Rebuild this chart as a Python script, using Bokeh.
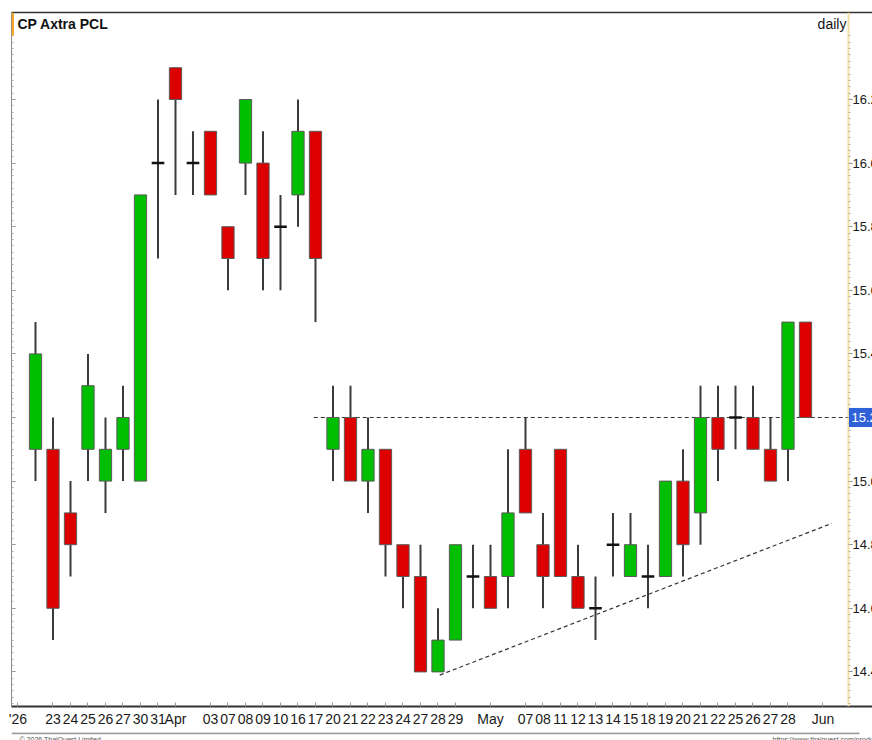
from bokeh.plotting import figure
from bokeh.layouts import column
from bokeh.models import (LinearAxis, FixedTicker, Range1d, Label, ColumnDataSource,
                          NumeralTickFormatter, BoxAnnotation)
from bokeh.core.properties import value
from bokeh.embed import file_html
from bokeh.resources import INLINE

# ---------------- data ----------------
dates = ["Mar 20", "Mar 23", "Mar 24", "Mar 25", "Mar 26", "Mar 27", "Mar 30", "Mar 31",
         "Apr 01", "Apr 02", "Apr 03", "Apr 07", "Apr 08", "Apr 09", "Apr 10", "Apr 16",
         "Apr 17", "Apr 20", "Apr 21", "Apr 22", "Apr 23", "Apr 24", "Apr 27", "Apr 28",
         "Apr 29", "Apr 30", "May 05", "May 06", "May 07", "May 08", "May 11", "May 12",
         "May 13", "May 14", "May 15", "May 18", "May 19", "May 20", "May 21", "May 22",
         "May 25", "May 26", "May 27", "May 28", "May 29"]
opens = [15.1, 15.1, 14.9, 15.1, 15.0, 15.1, 15.0, 16.0, 16.3, 16.0, 16.1, 15.8, 16.0, 16.0,
         15.8, 15.9, 16.1, 15.1, 15.2, 15.0, 15.1, 14.8, 14.7, 14.4, 14.5, 14.7, 14.7, 14.7,
         15.1, 14.8, 15.1, 14.7, 14.6, 14.8, 14.7, 14.7, 14.7, 15.0, 14.9, 15.2, 15.2, 15.2,
         15.1, 15.1, 15.5]
highs = [15.5, 15.2, 15.0, 15.4, 15.2, 15.3, 15.9, 16.2, 16.3, 16.1, 16.1, 15.8, 16.2, 16.1,
         15.9, 16.2, 16.1, 15.3, 15.3, 15.2, 15.1, 14.8, 14.8, 14.6, 14.8, 14.8, 14.8, 15.1,
         15.2, 14.9, 15.1, 14.8, 14.7, 14.9, 14.9, 14.8, 15.0, 15.1, 15.3, 15.3, 15.3, 15.3,
         15.2, 15.5, 15.5]
lows = [15.0, 14.5, 14.7, 15.0, 14.9, 15.0, 15.0, 15.7, 15.9, 15.9, 15.9, 15.6, 15.9, 15.6,
        15.6, 15.8, 15.5, 15.0, 15.0, 14.9, 14.7, 14.6, 14.4, 14.4, 14.5, 14.6, 14.6, 14.6,
        14.9, 14.6, 14.7, 14.6, 14.5, 14.7, 14.7, 14.6, 14.7, 14.7, 14.8, 15.0, 15.1, 15.1,
        15.0, 15.0, 15.2]
closes = [15.4, 14.6, 14.8, 15.3, 15.1, 15.2, 15.9, 16.0, 16.2, 16.0, 15.9, 15.7, 16.2, 15.7,
          15.8, 16.1, 15.7, 15.2, 15.0, 15.1, 14.8, 14.7, 14.4, 14.5, 14.8, 14.7, 14.6, 14.9,
          14.9, 14.7, 14.7, 14.6, 14.6, 14.8, 14.8, 14.7, 15.0, 14.8, 15.2, 15.1, 15.2, 15.1,
          15.0, 15.5, 15.2]

tick_positions = [-1, 1, 2, 3, 4, 5, 6, 7, 8, 10, 11, 12, 13, 14, 15, 16, 17, 18, 19, 20, 21,
                  22, 23, 24, 26, 28, 29, 30, 31, 32, 33, 34, 35, 36, 37, 38, 39, 40, 41, 42,
                  43, 45]
tick_labels = ["'26", "23", "24", "25", "26", "27", "30", "31", "Apr", "03", "07", "08", "09",
               "10", "16", "17", "20", "21", "22", "23", "24", "27", "28", "29", "May", "07",
               "08", "11", "12", "13", "14", "15", "18", "19", "20", "21", "22", "25", "26",
               "27", "28", "Jun"]
price_ticks = [14.4, 14.6, 14.8, 15.0, 15.2, 15.4, 15.6, 15.8, 16.0, 16.2]

resistance_x = [15.9, 46.46]
resistance_y = [15.2, 15.2]
trend_x = [23.1, 45.5]
trend_y = [14.39, 14.867]

title_text = "CP Axtra PCL"
period_text = "daily"
copyright_text = "\u00a9 2026 ThaiQuest Limited"
url_text = "https://www.thaiquest.com/products/tronline/"

# ---------------- derived ----------------
idx = list(range(len(dates)))
up = [i for i in idx if closes[i] > opens[i]]
dn = [i for i in idx if closes[i] < opens[i]]
dj = [i for i in idx if closes[i] == opens[i]]

def sub(ids):
    return ColumnDataSource(dict(
        x=ids,
        top=[max(opens[i], closes[i]) for i in ids],
        bottom=[min(opens[i], closes[i]) for i in ids],
        date=[dates[i] for i in ids]))

wick_src = ColumnDataSource(dict(x=idx, high=highs, low=lows))
up_src = sub(up)
dn_src = sub(dn)
dj_src = ColumnDataSource(dict(x0=[i - 0.36 for i in dj], x1=[i + 0.36 for i in dj],
                               y=[opens[i] for i in dj]))

FONT = "'Liberation Sans', Arial, sans-serif"

PX = 17.5                      # pixels per trading day
X0 = -1.371                    # left edge of plotting frame
X_EDGE = X0 + 837 / PX         # price axis position
X1 = X0 + 861 / PX             # right edge of window
Y0, Y1 = 14.2912, 16.4736

p = figure(frame_width=861, frame_height=694, x_range=Range1d(X0, X1),
           y_range=Range1d(Y0, Y1), y_axis_location="right", x_axis_location="below",
           output_backend="svg", toolbar_location=None,
           min_border_left=11, min_border_top=12, min_border_right=0, min_border_bottom=24,
           background_fill_color="white", border_fill_color="white")
p.outline_line_color = None
p.xgrid.visible = False
p.ygrid.visible = False

# bottom axis (date labels)
xa = p.below[0]
xa.ticker = FixedTicker(ticks=tick_positions)
xa.major_label_overrides = {t: l for t, l in zip(tick_positions, tick_labels)}
xa.axis_line_color = "#333333"
xa.axis_line_width = 2
xa.major_tick_in = 4
xa.major_tick_out = 0
xa.major_tick_line_color = "#999999"
xa.minor_tick_line_color = None
xa.major_label_text_font = FONT
xa.major_label_text_font_size = "14px"
xa.major_label_text_color = "#1a1a1a"
xa.major_label_standoff = 4

# top rule
top_rule = LinearAxis(ticker=FixedTicker(ticks=[]), axis_line_color="#333333",
                      axis_line_width=1.5, major_tick_out=0, major_tick_in=0,
                      major_label_text_color=None, major_label_text_font_size="1px",
                      major_label_standoff=0)
p.add_layout(top_rule, "above")

# price axis, pinned at the right edge of the candle area
minor = [round(14.30 + 0.02 * k, 2) for k in range(106)]
ya = p.right[0]
ya.fixed_location = X_EDGE
ya.ticker = FixedTicker(ticks=price_ticks, minor_ticks=minor)
ya.formatter = NumeralTickFormatter(format="0.00")
ya.axis_line_color = "#F2DFA6"
ya.axis_line_width = 2
ya.major_tick_in = 0
ya.major_tick_out = 4
ya.minor_tick_in = 0
ya.minor_tick_out = 2
ya.major_tick_line_color = "#888888"
ya.minor_tick_line_color = "#aaaaaa"
ya.major_label_text_font = FONT
ya.major_label_text_font_size = "13px"
ya.major_label_text_color = "#1a1a1a"
ya.major_label_standoff = 0

# left tick-only axis
la = LinearAxis(ticker=FixedTicker(ticks=price_ticks, minor_ticks=minor),
                major_label_text_color=None, major_label_text_font_size="1px",
                major_label_standoff=0,
                axis_line_color="#888888", major_tick_in=4, major_tick_out=0,
                minor_tick_in=2, minor_tick_out=0, major_tick_line_color="#888888",
                minor_tick_line_color="#aaaaaa")
p.add_layout(la, "left")

# orange marker beside title
p.add_layout(BoxAnnotation(left=X0, right=X0 + 0.14, bottom=16.401, top=Y1,
                           fill_color="#F5A623", fill_alpha=1, line_color=None))

# reference lines
p.line(resistance_x, resistance_y, line_color="#333333", line_width=1.2, line_dash="4 3")
p.line(trend_x, trend_y, line_color="#333333", line_width=1.2, line_dash="4 3")

# candles
p.segment(x0="x", y0="high", x1="x", y1="low", source=wick_src, line_color="#3a3a3a",
          line_width=2)
p.vbar(x="x", width=0.7, top="top", bottom="bottom", source=up_src, fill_color="#00BE00",
       line_color="#5a5a5a", line_width=1)
p.vbar(x="x", width=0.7, top="top", bottom="bottom", source=dn_src, fill_color="#DD0000",
       line_color="#5a5a5a", line_width=1)
p.segment(x0="x0", y0="y", x1="x1", y1="y", source=dj_src, line_color="#111111",
          line_width=2.5)

# last price tag on the price axis
last = closes[-1]
p.add_layout(BoxAnnotation(left=X_EDGE + 0.03, right=X1, bottom=last - 0.03, top=last + 0.03,
                           fill_color="#2F62D8", fill_alpha=1, line_color=None))
p.add_layout(Label(x=X_EDGE + 0.17, y=last, text="%.2f" % last, text_font=FONT,
                   text_font_size="13px", text_color="white", text_baseline="middle"))

# header texts
p.add_layout(Label(x=-1.03, y=16.439, text=title_text, text_font=FONT, text_font_size="14px",
                   text_font_style="bold", text_color="#111111", text_baseline="middle"))
p.add_layout(Label(x=X_EDGE - 0.12, y=16.439, text=period_text, text_font=FONT,
                   text_font_size="14px", text_color="#111111", text_align="right",
                   text_baseline="middle"))

# footer strip
f = figure(frame_width=872, frame_height=10, x_range=Range1d(0, 872), y_range=Range1d(0, 10),
           x_axis_type=None, y_axis_type=None, output_backend="svg", toolbar_location=None,
           min_border=0, background_fill_color="white", border_fill_color="white")
f.outline_line_color = None
f.xgrid.visible = False
f.ygrid.visible = False
f.segment(x0=[0], y0=[9.2], x1=[848], y1=[9.2], line_color="#9a9a9a", line_width=2)
f.text(x=[8], y=[3.5], text=[copyright_text], text_font=value("Liberation Sans"),
       text_font_size="7px", text_color="#555555", text_baseline="middle")
f.text(x=[761], y=[3.0], text=[url_text], text_font=value("Liberation Sans"),
       text_font_size="7px", text_color="#555555", text_baseline="middle")

layout = column(p, f, spacing=0)
open("out.html", "w").write(file_html(layout, INLINE))
